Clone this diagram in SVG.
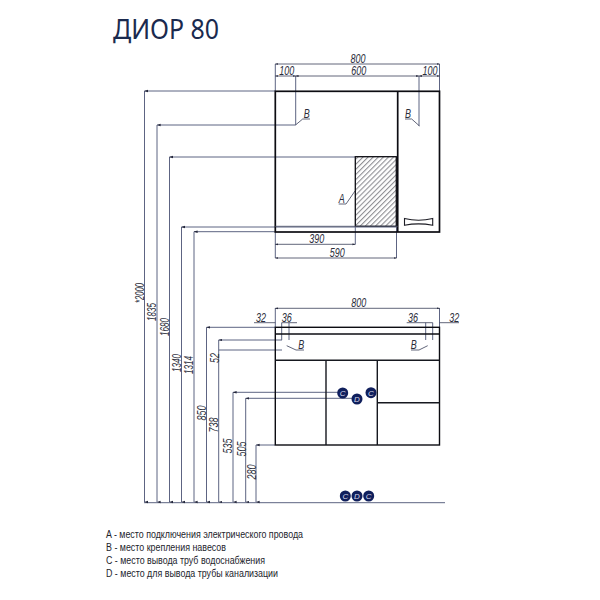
<svg xmlns="http://www.w3.org/2000/svg" width="600" height="600" viewBox="0 0 600 600">
<style>
.d{fill:none;stroke:#5d6482;stroke-width:1}
.dk{fill:none;stroke:#3a3f58;stroke-width:.8}
.o{fill:none;stroke:#0c0c12;stroke-width:1.7}
.o2{fill:none;stroke:#16181f;stroke-width:1.4}
.t{font-family:"Liberation Sans",Arial,sans-serif;font-style:italic;font-size:13px;fill:#2b2d3a;text-anchor:middle}
.l{font-family:"Liberation Sans",Arial,sans-serif;font-size:10px;fill:#23242c}
.c{fill:#101f5c}
.ct{font-family:"Liberation Sans",Arial,sans-serif;font-style:italic;font-size:8px;fill:#d5d9ea;text-anchor:middle}
</style>
<defs>
<pattern id="h" width="3.600" height="3.600" patternUnits="userSpaceOnUse" patternTransform="rotate(45)"><rect width="3.600" height="3.600" fill="#fff"/><rect width="1.100" height="3.600" fill="#8f8f94"/></pattern>
<marker id="a" markerWidth="4" markerHeight="4" refX="2" refY="3.6" orient="auto"><path d="M.8 0L2 4L3.2 0Z" fill="#23263a"/></marker>
<marker id="b" markerWidth="4" markerHeight="4" refX="3.6" refY="2" orient="auto-start-reverse"><path d="M0 .9L4 2L0 3.1Z" fill="#23263a"/></marker>
</defs>
<rect width="600" height="600" fill="#fff"/>
<text id="title" x="113" y="39" font-family="'Noto Sans','Open Sans',sans-serif" font-size="27" fill="#1b2a4e" textLength="106" lengthAdjust="spacingAndGlyphs">ДИОР 80</text>
<g id="connectors">
<path class="d" d="M144.500 91H275M157 125H295.500M169.500 157H355M181.500 227H397M194 231.700H275M206.500 327.300H275M218.700 340H282M218.700 350H282M233 392.300H343M245.700 398.300H357M256 445H275M144 502.700H445"/>
<g marker-start="url(#a)">
<path class="d" d="M144.500 91V502" marker-end="url(#a)"/><path class="d" d="M157 125V502" marker-end="url(#a)"/><path class="d" d="M169.500 157V502" marker-end="url(#a)"/><path class="d" d="M181.500 227V502" marker-end="url(#a)"/><path class="d" d="M194 231.700V502" marker-end="url(#a)"/><path class="d" d="M206.500 327.300V502" marker-end="url(#a)"/><path class="d" d="M218.700 340V502" marker-end="url(#a)"/><path class="d" d="M233 392.300V502" marker-end="url(#a)"/><path class="d" d="M245.700 398.300V502" marker-end="url(#a)"/><path class="d" d="M256 445V502" marker-end="url(#a)"/>
</g>
<path class="d" d="M275.300 64V91M439.500 64V91M295.700 76V125M419 76V126M355.300 226V244.300M396.500 226V258M275.300 232V258M275.300 308V327M439.500 308V327M281.700 322.700V340M289 322.700V340M425.700 322.700V340M432.700 322.700V340"/>
<path class="dk" d="M275.300 64H439.500" marker-start="url(#b)" marker-end="url(#b)"/>
<path class="dk" d="M275.300 76H295.700" marker-start="url(#b)" marker-end="url(#b)"/>
<path class="dk" d="M295.700 76H419" marker-start="url(#b)" marker-end="url(#b)"/>
<path class="dk" d="M419 76H439.500" marker-start="url(#b)" marker-end="url(#b)"/>
<path class="dk" d="M275.300 244.300H355.300" marker-start="url(#b)" marker-end="url(#b)"/>
<path class="dk" d="M275.300 258H396.500" marker-start="url(#b)" marker-end="url(#b)"/>
<path class="dk" d="M275.300 308.300H439.500" marker-start="url(#b)" marker-end="url(#b)"/>
<path class="dk" d="M254 322.700H275.300M281.700 322.700H297M406.700 322.700H432.700M439.500 322.700H459"/>
<path class="dk" d="M295.500 125L302.700 119H310M419.500 126L411.700 119H405M355 191L346 204H338.700M286.700 345.700L296 350H304M427.700 345.700L419 350H411"/>
</g>
<g id="upper-cabinet">
<rect class="o" x="275.300" y="91.300" width="164.200" height="140.700"/>
<path class="o" d="M397.700 91.300V232"/>
<rect x="355.300" y="156.700" width="41" height="69.600" fill="url(#h)" stroke="#0c0c12" stroke-width="1.300"/>
<path d="M275.300 226.300H397.700" fill="none" stroke="#555a70" stroke-width=".9"/>
<path d="M404.500 218.500Q418.500 222 432.700 218.500V225.300Q418.500 222.500 404.500 225.300Z" fill="#fff" stroke="#1c1c24" stroke-width="1.100"/>
</g>
<g id="lower-cabinet">
<rect class="o" x="275.300" y="327.300" width="164.200" height="117.700" style="stroke-width:1.400"/>
<path class="o" d="M275.300 334H439.500"/>
<path class="o2" d="M275.300 360.300H439.500M326 360.300V445M377.300 360.300V445M377.300 402.700H439.500"/>
</g>
<g id="labels-dimensions">
<text class="t" x="358" y="62.500" textLength="15" lengthAdjust="spacingAndGlyphs">800</text>
<text class="t" x="286.700" y="74.700" textLength="15" lengthAdjust="spacingAndGlyphs">100</text>
<text class="t" x="358.700" y="74.700" textLength="15" lengthAdjust="spacingAndGlyphs">600</text>
<text class="t" x="430" y="74.700" textLength="15" lengthAdjust="spacingAndGlyphs">100</text>
<text class="t" x="306.700" y="118" textLength="6" lengthAdjust="spacingAndGlyphs">B</text>
<text class="t" x="408" y="118" textLength="6" lengthAdjust="spacingAndGlyphs">B</text>
<text class="t" x="341.700" y="203.300" textLength="6" lengthAdjust="spacingAndGlyphs">A</text>
<text class="t" x="316.700" y="243.300" textLength="15" lengthAdjust="spacingAndGlyphs">390</text>
<text class="t" x="337.300" y="257" textLength="15" lengthAdjust="spacingAndGlyphs">590</text>
<text class="t" x="358.700" y="307" textLength="15" lengthAdjust="spacingAndGlyphs">800</text>
<text class="t" x="261" y="321.500" textLength="10" lengthAdjust="spacingAndGlyphs">32</text>
<text class="t" x="286.700" y="321.500" textLength="10" lengthAdjust="spacingAndGlyphs">36</text>
<text class="t" x="413" y="321.500" textLength="10" lengthAdjust="spacingAndGlyphs">36</text>
<text class="t" x="454.300" y="321.500" textLength="10" lengthAdjust="spacingAndGlyphs">32</text>
<text class="t" x="301.300" y="349.300" textLength="6" lengthAdjust="spacingAndGlyphs">B</text>
<text class="t" x="413.700" y="349.300" textLength="6" lengthAdjust="spacingAndGlyphs">B</text>
<text class="t" transform="translate(144 293) rotate(-90)" textLength="20" lengthAdjust="spacingAndGlyphs">*2000</text>
<text class="t" transform="translate(156 312) rotate(-90)" textLength="18" lengthAdjust="spacingAndGlyphs">1835</text>
<text class="t" transform="translate(169 327) rotate(-90)" textLength="18" lengthAdjust="spacingAndGlyphs">1680</text>
<text class="t" transform="translate(181 363) rotate(-90)" textLength="18" lengthAdjust="spacingAndGlyphs">1340</text>
<text class="t" transform="translate(193 365) rotate(-90)" textLength="18" lengthAdjust="spacingAndGlyphs">1314</text>
<text class="t" transform="translate(206 413) rotate(-90)" textLength="15" lengthAdjust="spacingAndGlyphs">850</text>
<text class="t" transform="translate(219 358) rotate(-90)" textLength="10" lengthAdjust="spacingAndGlyphs">52</text>
<text class="t" transform="translate(218 425) rotate(-90)" textLength="15" lengthAdjust="spacingAndGlyphs">738</text>
<text class="t" transform="translate(232 446) rotate(-90)" textLength="15" lengthAdjust="spacingAndGlyphs">535</text>
<text class="t" transform="translate(246 449) rotate(-90)" textLength="15" lengthAdjust="spacingAndGlyphs">505</text>
<text class="t" transform="translate(256 472) rotate(-90)" textLength="15" lengthAdjust="spacingAndGlyphs">280</text>
</g>
<g id="marker-c1"><circle class="c" cx="342.700" cy="393" r="5.500"/><text class="ct" x="342.700" y="395.800">C</text></g>
<g id="marker-d1"><circle class="c" cx="357" cy="399" r="5.500"/><text class="ct" x="357" y="401.800">D</text></g>
<g id="marker-c2"><circle class="c" cx="371" cy="392.700" r="5.500"/><text class="ct" x="371" y="395.500">C</text></g>
<g id="marker-c3"><circle class="c" cx="345.300" cy="496" r="5.500"/><text class="ct" x="345.300" y="498.800">C</text></g>
<g id="marker-c4"><circle class="c" cx="368.700" cy="496" r="5.500"/><text class="ct" x="368.700" y="498.800">C</text></g>
<g id="marker-d2"><circle class="c" cx="357" cy="496" r="5.500"/><text class="ct" x="357" y="498.800">D</text></g>
<g id="legend">
<text class="l" x="106" y="538" textLength="197" lengthAdjust="spacingAndGlyphs">A - место подключения электрического провода</text>
<text class="l" x="106" y="551" textLength="120" lengthAdjust="spacingAndGlyphs">B - место крепления навесов</text>
<text class="l" x="106" y="564" textLength="159" lengthAdjust="spacingAndGlyphs">C - место вывода труб водоснабжения</text>
<text class="l" x="106" y="577" textLength="172" lengthAdjust="spacingAndGlyphs">D - место для вывода трубы канализации</text>
</g>
</svg>
